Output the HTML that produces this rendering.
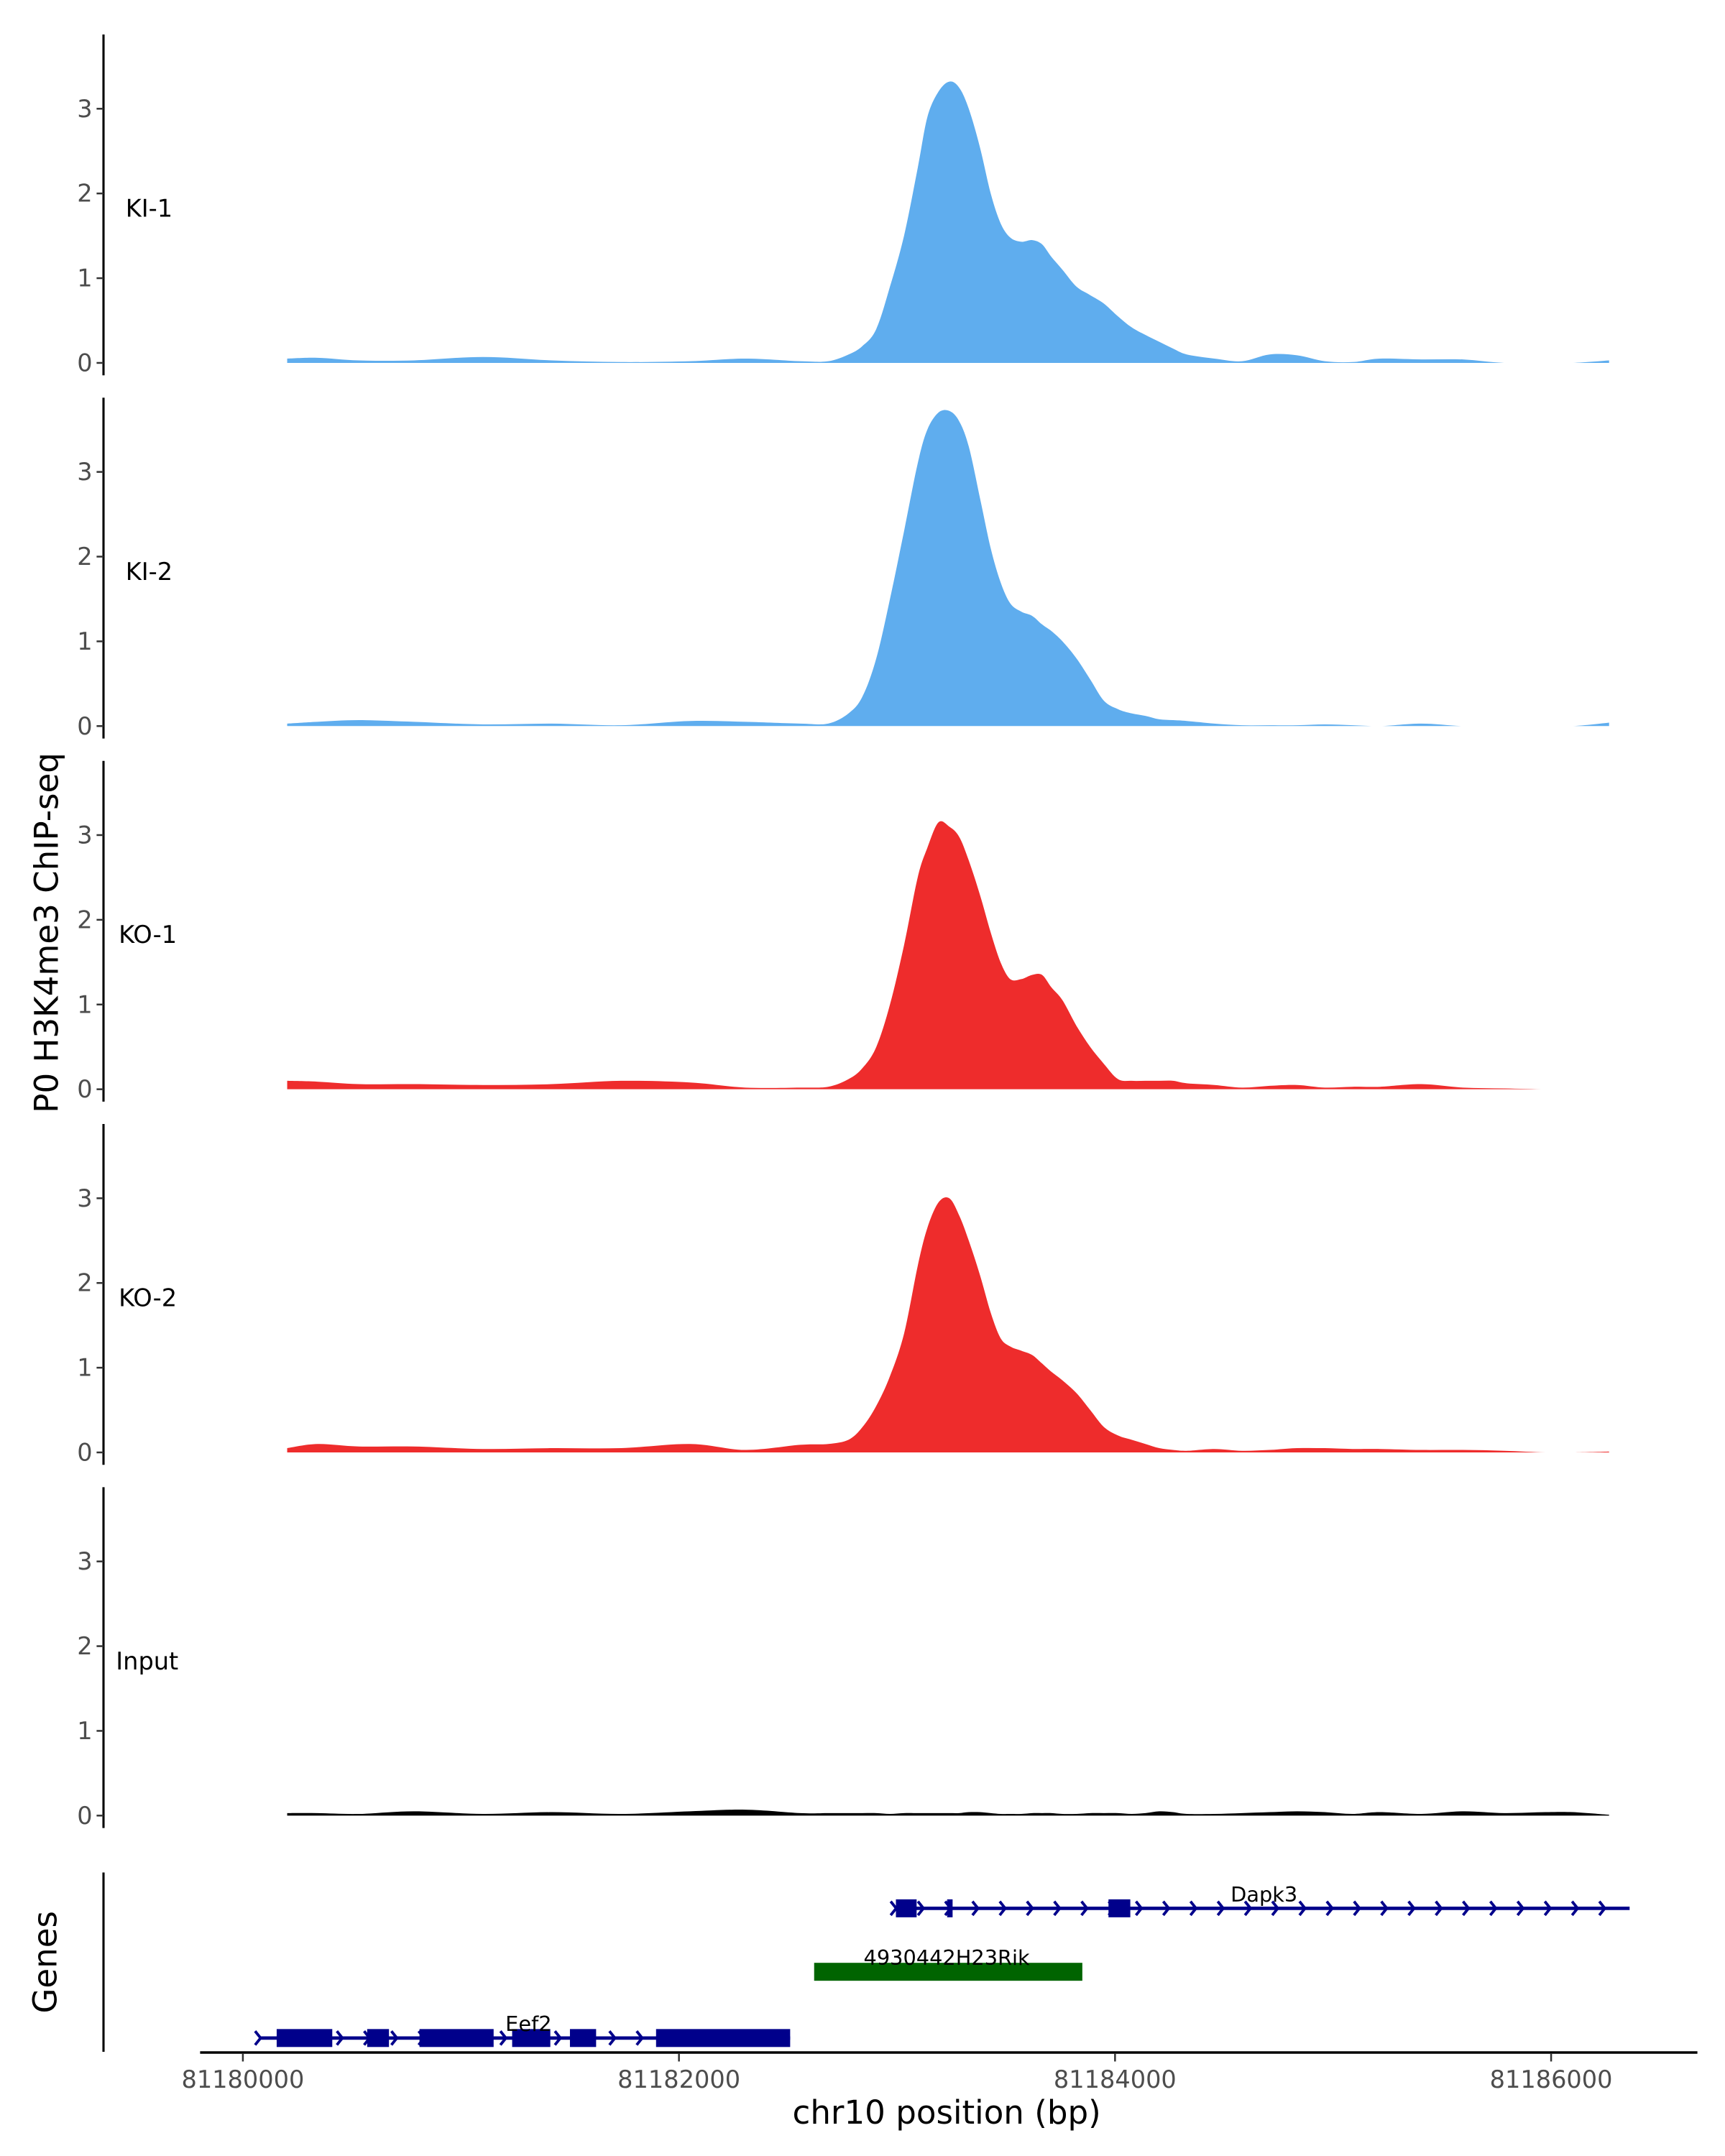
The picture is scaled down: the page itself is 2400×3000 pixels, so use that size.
<!DOCTYPE html>
<html><head><meta charset="utf-8"><style>
html,body{margin:0;padding:0;background:#fff}
svg{display:block}
text{font-family:"DejaVu Sans","Liberation Sans",sans-serif}
</style></head><body>
<svg id="chart" width="2400" height="3000" viewBox="0 0 1250 1562.5" xmlns="http://www.w3.org/2000/svg">
<rect width="1250" height="1562.5" fill="#fff"/>
<g id="tracks"></g>
<g id="genes"></g>
<g id="xaxis"></g>
<text transform="translate(42,676) rotate(-90)" text-anchor="middle" font-size="23.5" fill="#000">P0 H3K4me3 ChIP-seq</text>
<text transform="translate(41,1422) rotate(-90)" text-anchor="middle" font-size="23.5" fill="#000">Genes</text>
<text x="686" y="1539" text-anchor="middle" font-size="23.5" fill="#000">chr10 position (bp)</text>
</svg>
<script>
const positions=[81180203,81180342,81180532,81180785,81181101,81181418,81181734,81182051,81182304,81182557,81182684,81182778,81182842,81182905,81182968,81183032,81183095,81183139,81183190,81183240,81183285,81183329,81183380,81183430,81183475,81183519,81183570,81183620,81183665,81183709,81183759,81183823,81183886,81183949,81184013,81184076,81184139,81184203,81184266,81184329,81184456,81184582,81184709,81184835,81184962,81185089,81185215,81185405,81185595,81185785,81185975,81186101,81186266];
const trackNames=["KI-1","KI-2","KO-1","KO-2","Input"];
const ki1=[.05,.06,.03,.03,.07,.03,.01,.02,.05,.02,.02,.1,.2,.4,.9,1.5,2.3,2.9,3.2,3.32,3.25,3.0,2.55,2.0,1.65,1.48,1.43,1.45,1.4,1.25,1.1,.9,.8,.7,.55,.42,.33,.25,.17,.1,.05,.02,.1,.09,.02,.01,.05,.04,.04,0,0,0,.03];
const ki2=[.03,.05,.07,.05,.02,.03,.01,.06,.05,.03,.03,.15,.35,.8,1.5,2.3,3.1,3.5,3.7,3.72,3.6,3.3,2.7,2.1,1.7,1.45,1.35,1.3,1.2,1.12,1.0,.8,.55,.3,.2,.15,.12,.08,.07,.06,.03,.01,.01,.01,.02,.01,0,.03,0,0,0,0,.04];
const ko1=[.1,.09,.06,.06,.05,.06,.1,.08,.02,.02,.03,.12,.25,.5,1.0,1.7,2.5,2.85,3.15,3.1,2.98,2.7,2.3,1.85,1.5,1.3,1.3,1.35,1.35,1.2,1.05,.75,.5,.3,.12,.1,.1,.1,.1,.07,.05,.02,.04,.05,.02,.03,.03,.06,.02,.01,0,0,0];
const ko2=[.05,.1,.07,.07,.04,.05,.05,.1,.03,.09,.1,.15,.3,.55,.9,1.4,2.2,2.65,2.95,3.0,2.8,2.5,2.1,1.65,1.35,1.25,1.2,1.15,1.05,.95,.85,.7,.5,.3,.2,.15,.1,.05,.03,.02,.04,.02,.03,.05,.05,.04,.04,.03,.03,.02,0,0,.01];
const inputTrack=[.03,.03,.02,.05,.02,.04,.02,.05,.07,.03,.03,.03,.03,.03,.02,.03,.03,.03,.03,.03,.03,.04,.04,.03,.02,.02,.02,.03,.03,.03,.02,.02,.03,.03,.03,.02,.03,.05,.04,.02,.02,.03,.04,.05,.04,.02,.04,.02,.05,.03,.04,.04,.01];
const trackColors=["#5fadee","#5fadee","#ee2c2c","#ee2c2c","#000000"];
const yTicks=[0,1,2,3];
const xTicks=[81180000,81182000,81184000,81186000];
const geneNames=["Dapk3","4930442H23Rik","Eef2"];
const geneStarts=[81182990,81182620,81180075];
const geneEnds=[81186360,81183850,81182510];
const dapk3Exons=[[81182995,81183090],[81183230,81183255],[81183970,81184070]];
const rikExons=[[81182620,81183850]];
const eef2Exons=[[81180155,81180410],[81180570,81180670],[81180810,81181150],[81181235,81181410],[81181500,81181620],[81181895,81182510]];

const NS="http://www.w3.org/2000/svg";
const X=bp=>176+(bp-81180000)*0.158;
const UNIT=61.4, PANEL=263.2, ZERO0=263;
function mk(tag,attrs,parent){const e=document.createElementNS(NS,tag);for(const k in attrs)e.setAttribute(k,attrs[k]);parent.appendChild(e);return e;}
const tg=document.getElementById('tracks');
const series=[ki1,ki2,ko1,ko2,inputTrack];
series.forEach((vals,i)=>{
  const z=ZERO0+i*PANEL;
  const Y=v=>z-v*UNIT;
  const g=mk('g',{},tg);
  
  
  const ax=mk('line',{x1:75,x2:75,y1:z-238,y2:z+9,stroke:'#000','stroke-width':1.6},g);
  
  
  yTicks.forEach(t=>{
    mk('line',{x1:70,x2:75,y1:Y(t),y2:Y(t),stroke:'#333','stroke-width':1.3},g);
    const tx=mk('text',{x:67,y:Y(t)+6,'text-anchor':'end','font-size':17.5,fill:'#4d4d4d'},g);
    tx.textContent=t;
    
    
  });
  const lb=mk('text',{x:trackNames[i].length>4?84:(trackNames[i].startsWith('KO')?86:91),y:z-106,'font-size':17.5,fill:'#000'},g);
  lb.textContent=trackNames[i];
  
  
  const pts=positions.map((p,j)=>[X(p),Y(vals[j])]);
  let d='M'+pts[0][0].toFixed(1)+','+z+' L'+pts[0][0].toFixed(1)+','+pts[0][1].toFixed(1);
  for(let j=0;j<pts.length-1;j++){
    const p0=pts[Math.max(j-1,0)],p1=pts[j],p2=pts[j+1],p3=pts[Math.min(j+2,pts.length-1)];
    const c1=[p1[0]+(p2[0]-p0[0])/6,Math.min(z,p1[1]+(p2[1]-p0[1])/6)];
    const c2=[p2[0]-(p3[0]-p1[0])/6,Math.min(z,p2[1]-(p3[1]-p1[1])/6)];
    d+=` C${c1[0].toFixed(1)},${c1[1].toFixed(1)} ${c2[0].toFixed(1)},${c2[1].toFixed(1)} ${p2[0].toFixed(1)},${p2[1].toFixed(1)}`;
  }
  d+=' L'+pts[pts.length-1][0].toFixed(1)+','+z+' Z';
  const a=mk('path',{d:d,fill:trackColors[i]},g);
  
  
});
// genes
const gg=document.getElementById('genes');
const ga=mk('line',{x1:75,x2:75,y1:1357,y2:1487,stroke:'#000','stroke-width':1.6},gg);


const rows=[1383,1429,1477];
const exonSets=[dapk3Exons,rikExons,eef2Exons];
const gcol=["#00008b","#006400","#00008b"];
const labelX=[916,686,383];
geneNames.forEach((n,i)=>{
  const y=rows[i];
  const g=mk('g',{},gg);
  
  
  if(i!==1){
    mk('line',{x1:X(geneStarts[i]),x2:X(geneEnds[i]),y1:y,y2:y,stroke:gcol[i],'stroke-width':2.5},g);
    for(let p=geneStarts[i];p<=geneEnds[i]+1;p+=125){
      const x=X(p);
      mk('path',{d:`M${x-3},${y-5} L${x+1},${y} L${x-3},${y+5}`,fill:'none',stroke:gcol[i],'stroke-width':2},g);
    }
  }
  exonSets[i].forEach(e=>{
    mk('rect',{x:X(e[0]),y:y-6.5,width:X(e[1])-X(e[0]),height:13,fill:gcol[i]},g);
  });
  const t=mk('text',{x:labelX[i],y:y-5,'text-anchor':'middle','font-size':15,fill:'#000'},g);
  t.textContent=n;
  
  
});
// x axis
const xg=document.getElementById('xaxis');
const xl=mk('line',{x1:145,x2:1230,y1:1487.5,y2:1487.5,stroke:'#000','stroke-width':1.8},xg);


xTicks.forEach(t=>{
  mk('line',{x1:X(t),x2:X(t),y1:1488,y2:1494,stroke:'#333','stroke-width':1.3},xg);
  const tx=mk('text',{x:X(t),y:1513,'text-anchor':'middle','font-size':17.5,fill:'#4d4d4d'},xg);
  tx.textContent=t;
  
  
});
</script>
</body></html>
